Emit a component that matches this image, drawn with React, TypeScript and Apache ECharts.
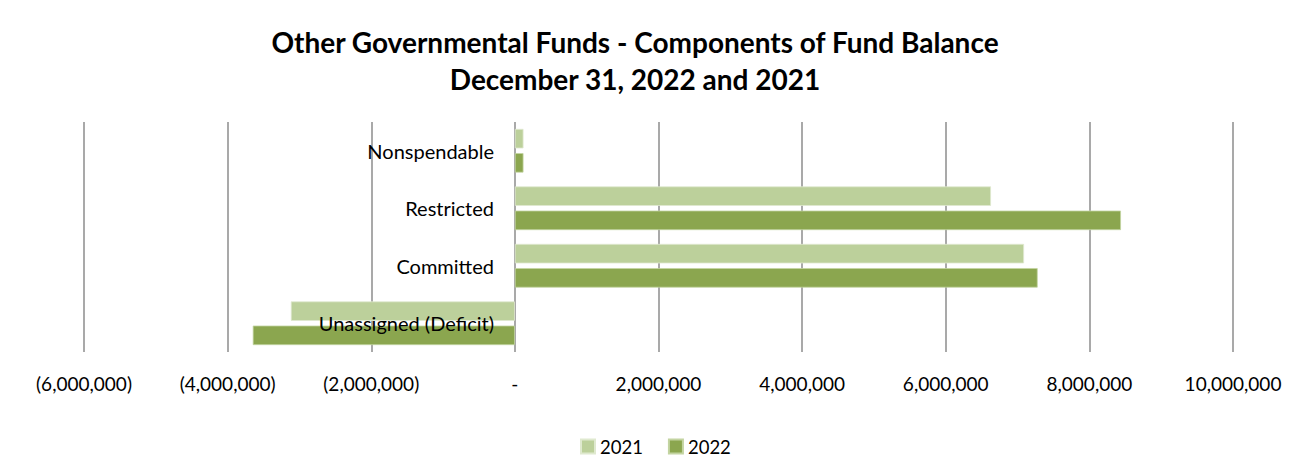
import React, { useEffect, useRef } from "react";
import * as echarts from "echarts";

const categories = ["Nonspendable", "Restricted", "Committed", "Unassigned (Deficit)"];
const values2021 = [120000, 6630000, 7090000, -3120000];
const values2022 = [120000, 8440000, 7280000, -3650000];
const seriesNames = ["2021", "2022"];
const titleLines = ["Other Governmental Funds - Components of Fund Balance", "December 31, 2022 and 2021"];
const axisMin = -6000000;
const axisMax = 10000000;
const axisStep = 2000000;

const FONT = "Lato, 'Open Sans', sans-serif";

function fmt(v: number): string {
  if (v === 0) return "-";
  const s = Math.abs(v).toLocaleString("en-US");
  return v < 0 ? `(${s})` : s;
}

export default function App() {
  const ref = useRef<HTMLDivElement>(null);
  useEffect(() => {
    if (!ref.current) return;
    const chart = echarts.init(ref.current, null, { renderer: "svg" });
    chart.setOption({
      animation: false,
      backgroundColor: "#ffffff",
      title: {
        text: titleLines.join("\n"),
        left: 630,
        textAlign: "center",
        top: 18,
        textStyle: {
          fontFamily: FONT,
          fontWeight: "bold",
          fontSize: 28,
          lineHeight: 37,
          color: "#000000",
        },
      },
      graphic: [
        {
          type: "rect",
          z: 100,
          shape: { x: 5, y: 3, width: 1305, height: 459 },
          style: { fill: null, stroke: "#a6a6a6", lineWidth: 2 },
        },
        {
          type: "rect",
          z: 101,
          shape: { x: 4.5, y: 3, width: 2, height: 459 },
          style: { fill: "#3cc7d0" },
        },
      ],
      legend: {
        data: seriesNames,
        bottom: 3,
        left: 575,
        itemWidth: 14,
        itemHeight: 14,
        itemGap: 25,
        icon: "rect",
        textStyle: { fontFamily: FONT, fontSize: 18.5, color: "#000000" },
      },
      grid: { left: 84, right: 79, top: 122, bottom: 112, outerBoundsMode: "none", containLabel: false },
      xAxis: {
        type: "value",
        min: axisMin,
        max: axisMax,
        interval: axisStep,
        axisLine: { show: false },
        axisTick: { show: false },
        splitLine: { show: true, lineStyle: { color: "#8c8c8c", width: 1.5 } },
        axisLabel: {
          formatter: (v: number) => fmt(v),
          fontFamily: FONT,
          fontSize: 19,
          color: "#000000",
          margin: 22,
        },
      },
      yAxis: {
        type: "category",
        data: categories,
        inverse: true,
        position: "left",
        offset: -430,
        axisLine: { show: false, onZero: false },
        axisTick: { show: false },
        axisLabel: { fontFamily: FONT, fontSize: 20, color: "#000000", margin: 20 },
        z: 5,
      },
      series: [
        {
          name: seriesNames[0],
          type: "bar",
          data: values2021,
          barWidth: 19.5,
          barGap: "24%",
          itemStyle: { color: "#bcd09b", borderColor: "#dfe9cf", borderWidth: 0.8 },
        },
        {
          name: seriesNames[1],
          type: "bar",
          data: values2022,
          barWidth: 19.5,
          barGap: "24%",
          itemStyle: { color: "#8ba64f", borderColor: "#c3d4a1", borderWidth: 0.8 },
        },
      ],
    });
    return () => chart.dispose();
  }, []);
  return <div ref={ref} style={{ width: 1312, height: 464, margin: -8 }} />;
}
